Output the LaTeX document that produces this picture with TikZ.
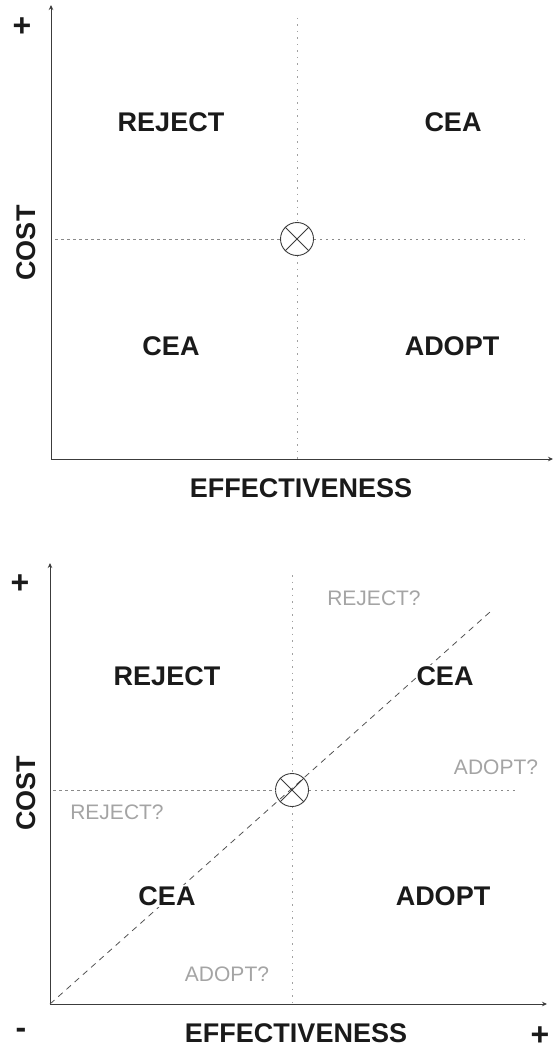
\documentclass[tikz,border=0pt]{standalone}
\usepackage{fontspec}
\setmainfont{Liberation Sans}
\usepackage{tikz}
\usetikzlibrary{arrows.meta, positioning, calc, shapes.geometric}
\definecolor{inkBlack}{HTML}{1A1A1A}
\definecolor{guideGrey}{HTML}{8A8A8A}
\definecolor{hintGrey}{HTML}{A4A4A4}
\tikzset{
    % Axes and guides
    axisLine/.style={-{Stealth[length=5pt,width=4.5pt]}, line width=0.9pt, draw=inkBlack!85},
    hGuide/.style={draw=guideGrey, line width=0.8pt, dash pattern=on 2.5pt off 3.5pt},
    vGuide/.style={draw=guideGrey!80, line width=0.7pt, dash pattern=on 1.5pt off 5pt},
    diagDash/.style={draw=inkBlack!75, line width=0.8pt, dash pattern=on 6pt off 5pt},
    crossMark/.style={circle, draw=inkBlack!85, line width=0.9pt, fill=white, minimum size=33pt, inner sep=0pt},
    % Labels
    quadLabel/.style={font=\fontsize{27}{30}\selectfont\bfseries, text=inkBlack},
    hintLabel/.style={font=\fontsize{21}{24}\selectfont, text=hintGrey},
    signMark/.style={font=\fontsize{32}{34}\selectfont\bfseries, text=inkBlack, inner sep=0pt}
}
\newcommand{\CrossArms}[1]{
    \draw[inkBlack!85, line width=0.9pt] (#1.north west) -- (#1.south east);
    \draw[inkBlack!85, line width=0.9pt] (#1.north east) -- (#1.south west);
}

\begin{document}
\begin{tikzpicture}[x=1pt, y=-1pt]
    \useasboundingbox (0,0) rectangle (554,1051);

    % Upper chart
    \coordinate (upOrigin) at (51,459);
    \coordinate (upTop) at (51,5);
    \coordinate (upRight) at (553,459);
    \coordinate (upLeftEnd) at (55,239);
    \coordinate (upRightEnd) at (525,239);
    \coordinate (upTopEnd) at (297,18);
    \draw[axisLine] (upOrigin) -- (upTop);
    \draw[axisLine] (upOrigin) -- (upRight);
    \node[crossMark] (upCross) at (297,239) {};
    \draw[hGuide] (upLeftEnd) -- (upCross.west);
    \draw[hGuide] (upCross.east) -- (upRightEnd);
    \draw[vGuide] (upTopEnd) -- (upCross.north);
    \draw[vGuide] (upCross.south) -- (upCross |- upOrigin);
    \CrossArms{upCross}

    \node[quadLabel] (upReject) at (171,122) {REJECT};
    \node[quadLabel] (upCeaHigh) at (453,122) {CEA};
    \node[quadLabel] (upCeaLow) at (171,346) {CEA};
    \node[quadLabel] (upAdopt) at (452,346) {ADOPT};
    \node[quadLabel, rotate=90] (upCost) at (26,243) {COST};
    \node[quadLabel] (upEff) at (301,488) {EFFECTIVENESS};
    \node[signMark] (upPlus) at (22,27) {+};

    % Lower chart with the diagonal
    \coordinate (loOrigin) at (50,1004);
    \coordinate (loTop) at (50,563);
    \coordinate (loRight) at (547,1004);
    \coordinate (loLeftEnd) at (53,790);
    \coordinate (loRightEnd) at (516,790);
    \coordinate (loTopEnd) at (292,575);
    \coordinate (loDiagEnd) at (490,612);
    \draw[axisLine] (loOrigin) -- (loTop);
    \draw[axisLine] (loOrigin) -- (loRight);
    \draw[diagDash] (loOrigin) -- (loDiagEnd);
    \node[crossMark, fill=none] (loCross) at (292,790) {};
    \draw[hGuide] (loLeftEnd) -- (loCross.west);
    \draw[hGuide] (loCross.east) -- (loRightEnd);
    \draw[vGuide] (loTopEnd) -- (loCross.north);
    \draw[vGuide] (loCross.south) -- (loCross |- loOrigin);
    \CrossArms{loCross}

    \node[quadLabel] (loReject) at (167,676) {REJECT};
    \node[quadLabel, fill=white, inner sep=1pt] (loCeaHigh) at (445,676) {CEA};
    \node[quadLabel, fill=white, inner sep=1pt] (loCeaLow) at (167,896) {CEA};
    \node[quadLabel] (loAdopt) at (443,896) {ADOPT};
    \node[quadLabel, rotate=90] (loCost) at (26,793) {COST};
    \node[quadLabel] (loEff) at (296,1033) {EFFECTIVENESS};
    \node[signMark] (loPlusUp) at (20,584) {+};
    \node[signMark] (loMinus) at (21,1033) {-};
    \node[signMark] (loPlusRight) at (540,1036) {+};

    % Uncertain regions
    \node[hintLabel] (hintRejectUp) at (374,598) {REJECT?};
    \node[hintLabel] (hintAdoptRight) at (496,767) {ADOPT?};
    \node[hintLabel] (hintRejectLeft) at (117,812) {REJECT?};
    \node[hintLabel] (hintAdoptDown) at (227,974) {ADOPT?};
\end{tikzpicture}
\end{document}
